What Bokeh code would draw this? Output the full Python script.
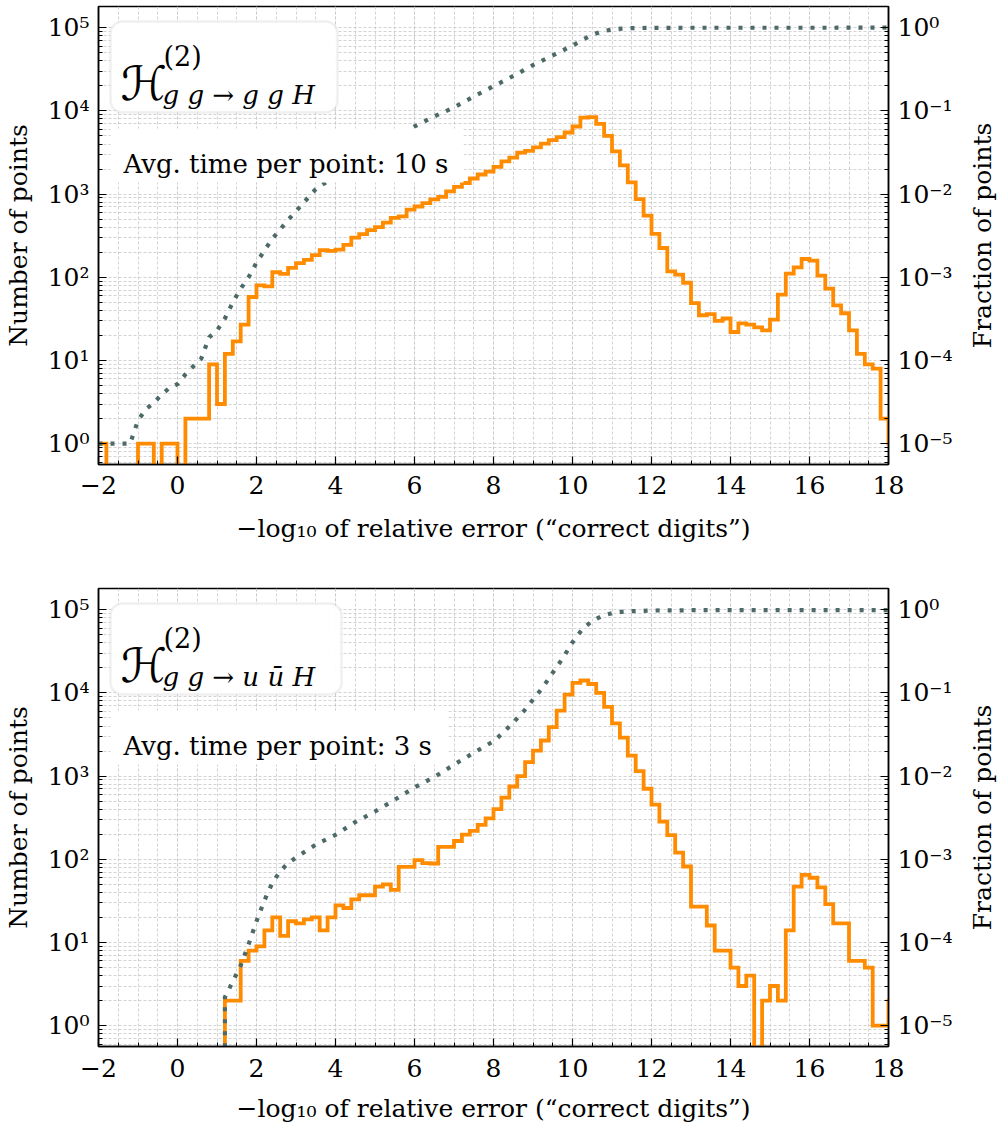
import math
import numpy as np
from bokeh.plotting import figure
from bokeh.models import (Range1d, LogAxis, FixedTicker, BoxAnnotation, Label,
                          LogScale, CustomJSTickFormatter)
from bokeh.layouts import column, row
from bokeh.embed import file_html
from bokeh.resources import INLINE

# ---------------- data ----------------
BIN_START = -2.0
BIN_WIDTH = 0.2
TOTAL_POINTS = 100000

# counts per 0.2-wide bin, first bin [-2.0, -1.8); last entry is the bin just past 18
counts_ggH = [
    1, 0, 0, 0, 0, 1, 1, 0, 1, 1,
    0, 2, 2, 2, 9, 3, 12, 17, 27, 58,
    80, 78, 115, 110, 130, 148, 162, 185, 212, 208,
    215, 246, 300, 330, 370, 400, 455, 517, 540, 650,
    710, 780, 865, 925, 1080, 1220, 1360, 1540, 1720, 1860,
    2120, 2480, 2750, 3150, 3300, 3650, 4050, 4450, 4850, 5500,
    6500, 8300, 8400, 7000, 5020, 3260, 2210, 1380, 872, 550,
    332, 225, 118, 108, 86, 49, 35, 36, 30, 32,
    22, 28, 27, 25, 23, 31, 62, 111, 132, 166,
    159, 105, 73, 46, 37, 23, 12, 9, 8, 2,
    1,
]
counts_uuH = [
    0, 0, 0, 0, 0, 0, 0, 0, 0, 0,
    0, 0, 0, 0, 0, 0, 2, 2, 6, 8,
    9, 14, 20, 12, 18, 17, 19, 20, 14, 20,
    28, 26, 33, 37, 37, 47, 50, 43, 81, 81,
    98, 90, 89, 141, 141, 166, 198, 220, 260, 310,
    400, 550, 750, 1000, 1470, 2030, 2680, 3870, 6130, 9560,
    13200, 14100, 12800, 10000, 6800, 4300, 2900, 1760, 1150, 705,
    455, 283, 195, 120, 82, 27, 27, 16, 8, 8,
    5, 3, 4, 0, 2, 3, 2, 14, 47, 65,
    60, 46, 29, 17, 17, 6, 6, 5, 1, 1,
    2,
]

# cumulative number of points (dotted curve)
cum_ggH_x = [-2.0, -1.2, -1.0, -0.8, -0.6, -0.4, -0.2, 0.0, 0.2, 0.4, 0.6, 0.8, 1.0,
             1.2, 1.4, 1.6, 1.8, 2.0, 2.2, 2.4, 2.6, 2.8, 3.0, 3.5, 4.0, 4.5, 5.0,
             5.5, 6.0, 6.5, 7.0, 7.5, 8.0, 8.5, 9.0, 9.5, 10.0, 10.25, 10.5, 10.75,
             11.0, 11.25, 11.5, 12.0, 13.0, 18.0]
cum_ggH_y = [1, 1, 1.9, 2.6, 3.1, 3.9, 4.7, 5.2, 6.8, 8.5, 10.5, 19, 23,
             32, 50, 73, 100, 150, 210, 290, 375, 490, 620, 1150, 1650, 2400, 3300,
             4700, 6500, 8600, 11000, 14900, 19800, 26300, 35500, 46400, 61000, 71300,
             82000, 90500, 95000, 97500, 98800, 99600, 99900, 100000]
cum_uuH_x = [1.2, 1.2, 1.4, 1.6, 1.8, 2.0, 2.2, 2.4, 2.6, 2.8, 3.0, 3.5, 4.0, 4.5,
             5.0, 5.5, 6.0, 6.5, 7.0, 7.5, 8.0, 8.25, 8.5, 8.75, 9.0, 9.25, 9.5,
             9.75, 10.0, 10.25, 10.5, 10.75, 11.0, 11.25, 11.5, 12.0, 13.0, 18.0]
cum_uuH_y = [0, 2.2, 3.4, 5.3, 9.5, 18, 32, 52, 72, 90, 105, 150, 197, 280,
             375, 520, 730, 975, 1370, 1910, 2620, 3350, 4400, 5900, 8300, 11700, 17500,
             26000, 40500, 58500, 73500, 84000, 91000, 94300, 96000, 97800, 98600, 99000]

subscript_ggH = "g g   \u2192   g g H"
subscript_uuH = "g g   \u2192   u \u016b H"
time_ggH = "Avg. time per point: 10 s"
time_uuH = "Avg. time per point: 3 s"
right_label = "Fraction of points"

x_major_ticks = [-2, 0, 2, 4, 6, 8, 10, 12, 14, 16, 18]
x_minor_ticks = [-2 + 0.5 * i for i in range(41)]
count_major_ticks = [1, 10, 100, 1000, 10000, 100000]
count_minor_ticks = [m * 10 ** e for e in range(-1, 6) for m in range(2, 10)]

# ---------------- style ----------------
FONT = "DejaVu Serif"
ORANGE = "#ff8c00"
SLATE = "#4d6a68"
GRID = "#c8c8c8"
FRAME_W, FRAME_H = 790, 458
BORDER_L, BORDER_R, SIDE_W = 98, 58, 42
X_LO, X_HI = -2.0, 18.0
Y_LO, Y_HI = 10 ** -0.25, 10 ** 5.255
LY0, LY1 = math.log10(Y_LO), math.log10(Y_HI)


def dx(px):
    return X_LO + px * (X_HI - X_LO) / FRAME_W


def dy(px):
    return 10 ** (LY1 - px * (LY1 - LY0) / FRAME_H)


POW_CODE = """
const sup = {"-": "\u207b", "0": "\u2070", "1": "\u00b9", "2": "\u00b2", "3": "\u00b3",
             "4": "\u2074", "5": "\u2075", "6": "\u2076", "7": "\u2077", "8": "\u2078", "9": "\u2079"};
const e = Math.round(Math.log10(tick));
return "10" + String(e).split("").map(c => sup[c]).join("");
"""
X_CODE = 'return tick < 0 ? "\u2212" + Math.abs(tick) : String(tick);'


def style_axis(ax, label):
    if label:
        ax.axis_label = label
    ax.axis_line_color = "black"
    ax.axis_line_width = 1.5
    ax.major_tick_in = 8
    ax.major_tick_out = 0
    ax.minor_tick_in = 4
    ax.minor_tick_out = 0
    ax.major_tick_line_color = "black"
    ax.major_tick_line_width = 1.2
    ax.minor_tick_line_color = "black"
    ax.minor_tick_line_width = 1
    ax.major_label_text_font = FONT
    ax.major_label_text_font_size = "25px"
    ax.major_label_text_color = "black"
    ax.major_label_standoff = 9
    ax.axis_label_text_font = FONT
    ax.axis_label_text_font_size = "25px"
    ax.axis_label_text_font_style = "normal"
    ax.axis_label_text_color = "black"


def make_panel(counts, cum_x, cum_y, subscript, time_text, border_top, border_bottom,
               time_box_right, title_box_right, tick_standoff, xlabel_standoff):
    p = figure(frame_width=FRAME_W, frame_height=FRAME_H,
               x_range=Range1d(X_LO, X_HI), y_range=Range1d(Y_LO, Y_HI),
               y_axis_type="log", output_backend="svg", toolbar_location=None,
               min_border_left=BORDER_L, min_border_right=BORDER_R,
               min_border_top=border_top, min_border_bottom=border_bottom)
    p.background_fill_color = "white"
    p.border_fill_color = "white"
    p.outline_line_color = "black"
    p.outline_line_width = 1.5

    p.extra_y_ranges = {"frac": Range1d(Y_LO / TOTAL_POINTS, Y_HI / TOTAL_POINTS)}
    p.extra_y_scales = {"frac": LogScale()}

    xa = p.xaxis[0]
    xa.ticker = FixedTicker(ticks=x_major_ticks, minor_ticks=x_minor_ticks)
    xa.formatter = CustomJSTickFormatter(code=X_CODE)
    style_axis(xa, "\u2212log\u2081\u2080 of relative error (\u201ccorrect digits\u201d)")
    xa.major_label_standoff = tick_standoff
    xa.axis_label_standoff = xlabel_standoff

    ya = p.yaxis[0]
    ya.ticker = FixedTicker(ticks=count_major_ticks, minor_ticks=count_minor_ticks)
    ya.formatter = CustomJSTickFormatter(code=POW_CODE)
    style_axis(ya, "Number of points")
    ya.axis_label_standoff = 12

    ra = LogAxis(y_range_name="frac")
    ra.ticker = FixedTicker(ticks=[t / TOTAL_POINTS for t in count_major_ticks],
                            minor_ticks=[t / TOTAL_POINTS for t in count_minor_ticks])
    ra.formatter = CustomJSTickFormatter(code=POW_CODE)
    style_axis(ra, None)
    p.add_layout(ra, "right")

    for g in (p.xgrid, p.ygrid):
        g.grid_line_color = GRID
        g.grid_line_dash = "3 2"
        g.grid_line_width = 0.8
        g.minor_grid_line_color = GRID
        g.minor_grid_line_dash = "3 2"
        g.minor_grid_line_width = 0.8

    c = np.asarray(counts, dtype=float)
    edges = BIN_START + BIN_WIDTH * np.arange(len(c) + 1)
    yv = np.where(c > 0, c, 1e-3)
    p.step(edges, np.append(yv, yv[-1]), mode="after", line_color=ORANGE,
           line_width=3.8, line_join="miter")

    cy = np.asarray(cum_y, dtype=float)
    p.line(cum_x, np.where(cy > 0, cy, 1e-3), line_color=SLATE, line_width=4.2,
           line_dash="4 8", line_cap="butt")

    # title box
    p.add_layout(BoxAnnotation(left=dx(12), right=dx(title_box_right), top=dy(15), bottom=dy(106),
                               fill_color="white", fill_alpha=0.95, line_color="#cccccc",
                               line_width=2.5, border_radius=12))
    p.add_layout(Label(x=dx(22), y=dy(77), text="\u210b", text_font="DejaVu Sans",
                       text_font_size="47px", text_baseline="alphabetic", text_color="black"))
    p.add_layout(Label(x=dx(65), y=dy(50), text="(2)", text_font=FONT,
                       text_font_size="27px", text_baseline="alphabetic", text_color="black"))
    p.add_layout(Label(x=dx(64), y=dy(88), text=subscript, text_font=FONT,
                       text_font_style="italic", text_font_size="26px",
                       text_baseline="alphabetic", text_color="black"))
    # timing box
    p.add_layout(BoxAnnotation(left=dx(12), right=dx(time_box_right), top=dy(122), bottom=dy(176),
                               fill_color="white", fill_alpha=1.0, line_color=None))
    p.add_layout(Label(x=dx(25), y=dy(157), text=time_text, text_font=FONT,
                       text_font_size="26px", text_baseline="alphabetic", text_color="black"))

    # narrow strip on the right that carries the right-hand axis title
    s = figure(frame_width=SIDE_W, frame_height=FRAME_H, x_range=Range1d(0, SIDE_W),
               y_range=Range1d(0, FRAME_H), x_axis_location=None, y_axis_location=None,
               output_backend="svg", toolbar_location=None,
               min_border_left=0, min_border_right=0,
               min_border_top=border_top, min_border_bottom=border_bottom)
    s.outline_line_color = None
    s.xgrid.visible = False
    s.ygrid.visible = False
    s.background_fill_color = "white"
    s.border_fill_color = "white"
    s.add_layout(Label(x=27, y=FRAME_H / 2, text=right_label, angle=math.pi / 2,
                       text_align="center", text_baseline="middle", text_font=FONT,
                       text_font_size="25px", text_color="black"))
    return row(p, s)


p1 = make_panel(counts_ggH, cum_ggH_x, cum_ggH_y, subscript_ggH, time_ggH,
                6, 100, 365, 239, 11, 17)
p2 = make_panel(counts_uuH, cum_uuH_x, cum_uuH_y, subscript_uuH, time_uuH,
                24, 78, 350, 243, 12, 14)

layout = column(p1, p2)
open("out.html", "w").write(file_html(layout, INLINE))
